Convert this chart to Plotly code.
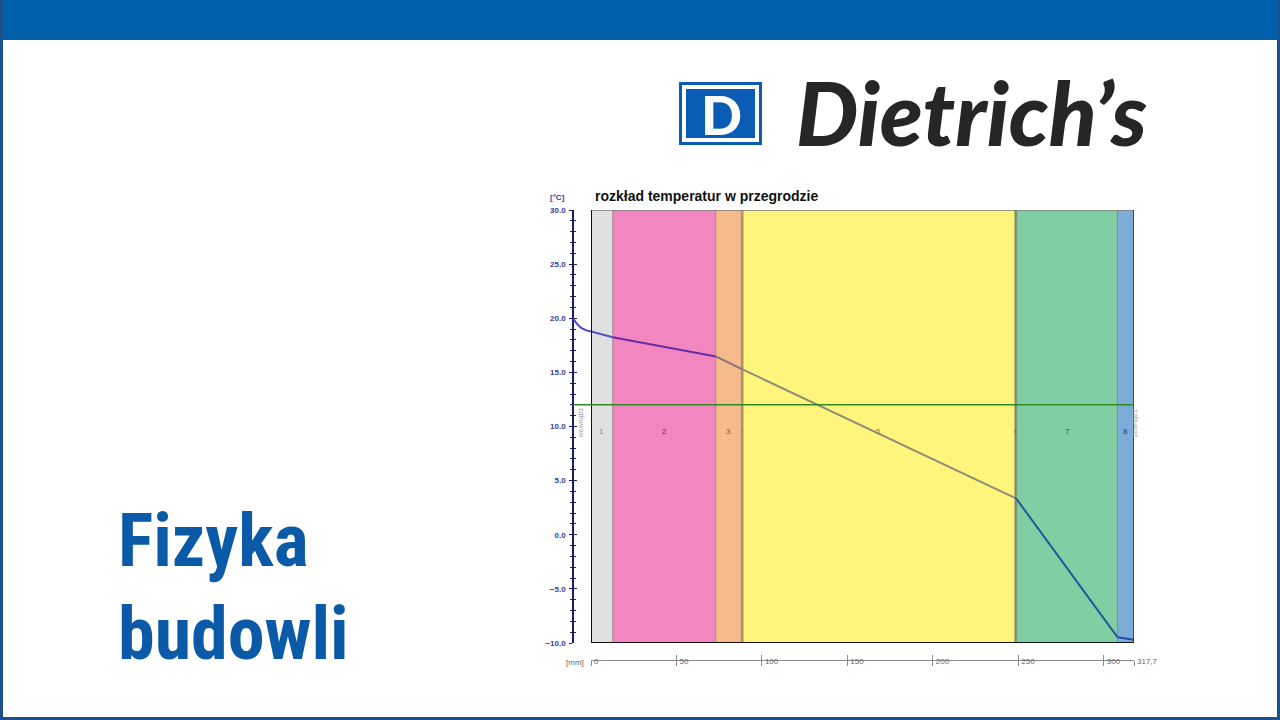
import plotly.graph_objects as go

W, H = 1280, 720

# ---------------- data ----------------
layer_names = ["1", "2", "3", "4", "5", "6", "7", "8"]
layer_bounds = [0.0, 12.7, 73.0, 88.0, 89.0, 248.0, 249.0, 308.0, 317.7]
temp_at_bounds = [18.77, 18.25, 16.47, 15.32, 15.25, 3.41, 3.30, -9.46, -9.70]
interior_x = [-10.5, -8.5, -6.0, -3.0, 0.0]
interior_t = [20.0, 19.55, 19.15, 18.9, 18.77]
dew_point = 12.0
y_ticks = [-10, -5, 0, 5, 10, 15, 20, 25, 30]
x_ticks = [0, 50, 100, 150, 200, 250, 300, 317.7]
x_tick_labels = ["0", "50", "100", "150", "200", "250", "300", "317,7"]

# ---------------- styles ----------------
layer_colors = ["#e0e0e0", "#f286c0", "#f6bb8a", "#c0ae6e", "#fff57c", "#8a9866", "#80cea4", "#7dacd8"]
label_colors = ["#8a8a8a", "#8a1a5a", "#a0522d", "#8a7a50", "#80804a", "#3a6a4a", "#1f6a3c", "#1f3f80"]
label_sizes = [8, 8, 8, 4, 8, 4, 8, 8]
seg_colors = ["#5a50cc", "#6a2aa6", "#8a7272", "#8a8a78", "#8c8c78", "#3a6a8a", "#1f5a98", "#1f4fa0"]
AXC = "#3b3ba0"
TITLE_FONT = "Roboto Condensed, Liberation Sans Narrow, DejaVu Sans Condensed, Lato"


def px(x):
    return x / W


def py(y):
    return 1 - y / H


fig = go.Figure()

for i in range(len(layer_names)):
    fig.add_trace(go.Scatter(
        x=layer_bounds[i:i + 2], y=temp_at_bounds[i:i + 2], mode="lines",
        line=dict(color=seg_colors[i], width=2), xaxis="x", yaxis="y",
        showlegend=False, hoverinfo="skip"))

fig.add_trace(go.Scatter(
    x=interior_x, y=interior_t, mode="lines", line=dict(color="#4646cc", width=2, shape="spline"),
    xaxis="x3", yaxis="y", showlegend=False, hoverinfo="skip"))

fig.add_trace(go.Scatter(x=[None], y=[None], xaxis="x2", yaxis="y", showlegend=False))
fig.add_trace(go.Scatter(x=[None], y=[None], xaxis="x", yaxis="y2", showlegend=False))

shapes = []
for i in range(len(layer_names)):
    shapes.append(dict(type="rect", xref="x", yref="y", layer="below",
                       x0=layer_bounds[i], x1=layer_bounds[i + 1], y0=-10, y1=30,
                       fillcolor=layer_colors[i], line=dict(width=0)))
for b in layer_bounds[1:-1]:
    shapes.append(dict(type="line", xref="x", yref="y", layer="below",
                       x0=b, x1=b, y0=-10, y1=30,
                       line=dict(color="rgba(90,90,70,0.5)", width=1)))
shapes.append(dict(type="line", xref="x", yref="y", x0=0, x1=317.7, y0=30, y1=30,
                   line=dict(color="#7a7a7a", width=1.5)))
shapes.append(dict(type="line", xref="x", yref="y", x0=0, x1=317.7, y0=-10, y1=-10,
                   line=dict(color="#111111", width=2)))
shapes.append(dict(type="line", xref="x", yref="y", x0=0, x1=0, y0=-10, y1=30,
                   line=dict(color="#111111", width=2)))
shapes.append(dict(type="line", xref="x", yref="y", x0=317.7, x1=317.7, y0=-10, y1=30,
                   line=dict(color="#1a2a4a", width=1.5)))
shapes.append(dict(type="line", xref="paper", yref="y", x0=px(573), x1=px(1134),
                   y0=dew_point, y1=dew_point, line=dict(color="#2f8a22", width=1.5)))

shapes.append(dict(type="rect", xref="paper", yref="paper", x0=0, x1=1, y0=py(40), y1=1,
                   fillcolor="#0060ac", line=dict(width=0)))
shapes.append(dict(type="rect", xref="paper", yref="paper", x0=0, x1=px(3), y0=0, y1=1,
                   fillcolor="#1c4f8c", line=dict(width=0)))
shapes.append(dict(type="rect", xref="paper", yref="paper", x0=px(1277), x1=1, y0=0, y1=1,
                   fillcolor="#1c4f8c", line=dict(width=0)))
shapes.append(dict(type="rect", xref="paper", yref="paper", x0=0, x1=1, y0=0, y1=py(717),
                   fillcolor="#1c4f8c", line=dict(width=0)))

shapes.append(dict(type="rect", xref="paper", yref="paper", x0=px(679), x1=px(762), y0=py(145), y1=py(82),
                   fillcolor="#0b5cb5", line=dict(width=0)))
shapes.append(dict(type="rect", xref="paper", yref="paper", x0=px(682), x1=px(759), y0=py(142), y1=py(85),
                   fillcolor="white", line=dict(width=0)))
shapes.append(dict(type="rect", xref="paper", yref="paper", x0=px(686), x1=px(755), y0=py(138), y1=py(89),
                   fillcolor="#0b5cb5", line=dict(width=0)))

annotations = []
for i, name in enumerate(layer_names):
    annotations.append(dict(xref="x", yref="y", x=(layer_bounds[i] + layer_bounds[i + 1]) / 2, y=9.5,
                            text=name, showarrow=False,
                            font=dict(family="Liberation Sans, Arial", size=label_sizes[i], color=label_colors[i])))
annotations.append(dict(xref="paper", yref="y", x=px(581), y=10.3, text="wewnątrz", textangle=-90,
                        showarrow=False, font=dict(family="Liberation Sans, Arial", size=7, color="#a0a0a0")))
annotations.append(dict(xref="paper", yref="y", x=px(1141), y=10.3, text="zewnątrz", textangle=-90,
                        showarrow=False, font=dict(family="Liberation Sans, Arial", size=7, color="#a0a0a0")))
annotations.append(dict(xref="paper", yref="paper", x=px(593), y=py(196), xanchor="left", yanchor="middle",
                        text="<b>rozkład temperatur w przegrodzie</b>", showarrow=False,
                        font=dict(family="Liberation Sans, Arial", size=14, color="#111111")))
annotations.append(dict(xref="paper", yref="paper", x=px(567), y=py(197), xanchor="right", yanchor="middle",
                        text="<b>[°C]</b>", showarrow=False,
                        font=dict(family="Liberation Sans, Arial", size=8, color=AXC)))
annotations.append(dict(xref="paper", yref="paper", x=px(586), y=py(662), xanchor="right", yanchor="middle",
                        text="[mm]", showarrow=False,
                        font=dict(family="Liberation Sans, Arial", size=8, color="#666666")))
annotations.append(dict(xref="paper", yref="paper", x=px(721), y=py(114), xanchor="center", yanchor="middle",
                        text="D", showarrow=False,
                        font=dict(family="Lato", size=54, color="white", weight=900)))
annotations.append(dict(xref="paper", yref="paper", x=px(794), y=py(112), xanchor="left", yanchor="middle",
                        text="Dietrich’s", showarrow=False,
                        font=dict(family="Lato", size=88, color="#262626", weight=900, style="italic")))
annotations.append(dict(xref="paper", yref="paper", x=px(116), y=py(540), xanchor="left", yanchor="middle",
                        text="Fizyka", showarrow=False,
                        font=dict(family=TITLE_FONT, size=74, color="#0b5aa8", weight="bold")))
annotations.append(dict(xref="paper", yref="paper", x=px(116), y=py(633), xanchor="left", yanchor="middle",
                        text="budowli", showarrow=False,
                        font=dict(family=TITLE_FONT, size=74, color="#0b5aa8", weight="bold")))

xdom = [px(591), px(1134)]
ydom = [py(643), py(210)]

fig.update_layout(
    width=W, height=H, autosize=False, margin=dict(l=0, r=0, t=0, b=0, autoexpand=False),
    paper_bgcolor="white", plot_bgcolor="rgba(0,0,0,0)",
    showlegend=False,
    shapes=shapes, annotations=annotations,
    xaxis=dict(domain=xdom, range=[0, 317.7], anchor="free", position=py(660), automargin=False,
               showgrid=False, zeroline=False, showline=True, linecolor="#8a8a8a", linewidth=1,
               tickvals=x_ticks, ticktext=x_tick_labels, ticks="outside", ticklen=5,
               tickcolor="#8a8a8a", tickwidth=1, ticklabelposition="outside right",
               ticklabelstandoff=-7, ticklabelshift=2,
               tickfont=dict(family="Liberation Sans, Arial", size=8, color="#666666")),
    xaxis2=dict(domain=xdom, range=[0, 317.7], overlaying="x", anchor="free", position=py(660),
                automargin=False,
                showgrid=False, zeroline=False, showline=False, showticklabels=False,
                tickvals=x_ticks, ticks="inside", ticklen=5, tickcolor="#8a8a8a", tickwidth=1),
    xaxis3=dict(domain=[px(573), px(591)], range=[-10.5, 0], anchor="y", visible=False, automargin=False),
    yaxis=dict(domain=ydom, range=[-10, 30], anchor="free", position=px(573), automargin=False,
               showgrid=False, zeroline=False, showline=True, linecolor="#1c1c6c", linewidth=1.5,
               tickvals=y_ticks, tickformat=".1f", ticks="outside", ticklen=3, tickcolor="#1c1c6c",
               tickwidth=1.2, ticklabelstandoff=2,
               minor=dict(dtick=1, tick0=0, ticks="outside", ticklen=2, tickcolor="#1c1c6c", tickwidth=1),
               tickfont=dict(family="Liberation Sans, Arial", size=8, color=AXC, weight="bold")),
    yaxis2=dict(domain=ydom, range=[-10, 30], overlaying="y", anchor="free", position=px(573),
                automargin=False,
                showgrid=False, zeroline=False, showline=False, showticklabels=False,
                tickvals=y_ticks, ticks="inside", ticklen=3, tickcolor="#1c1c6c", tickwidth=1.2,
                minor=dict(dtick=1, tick0=0, ticks="inside", ticklen=2, tickcolor="#1c1c6c", tickwidth=1)),
)

fig.write_html("out.html")
